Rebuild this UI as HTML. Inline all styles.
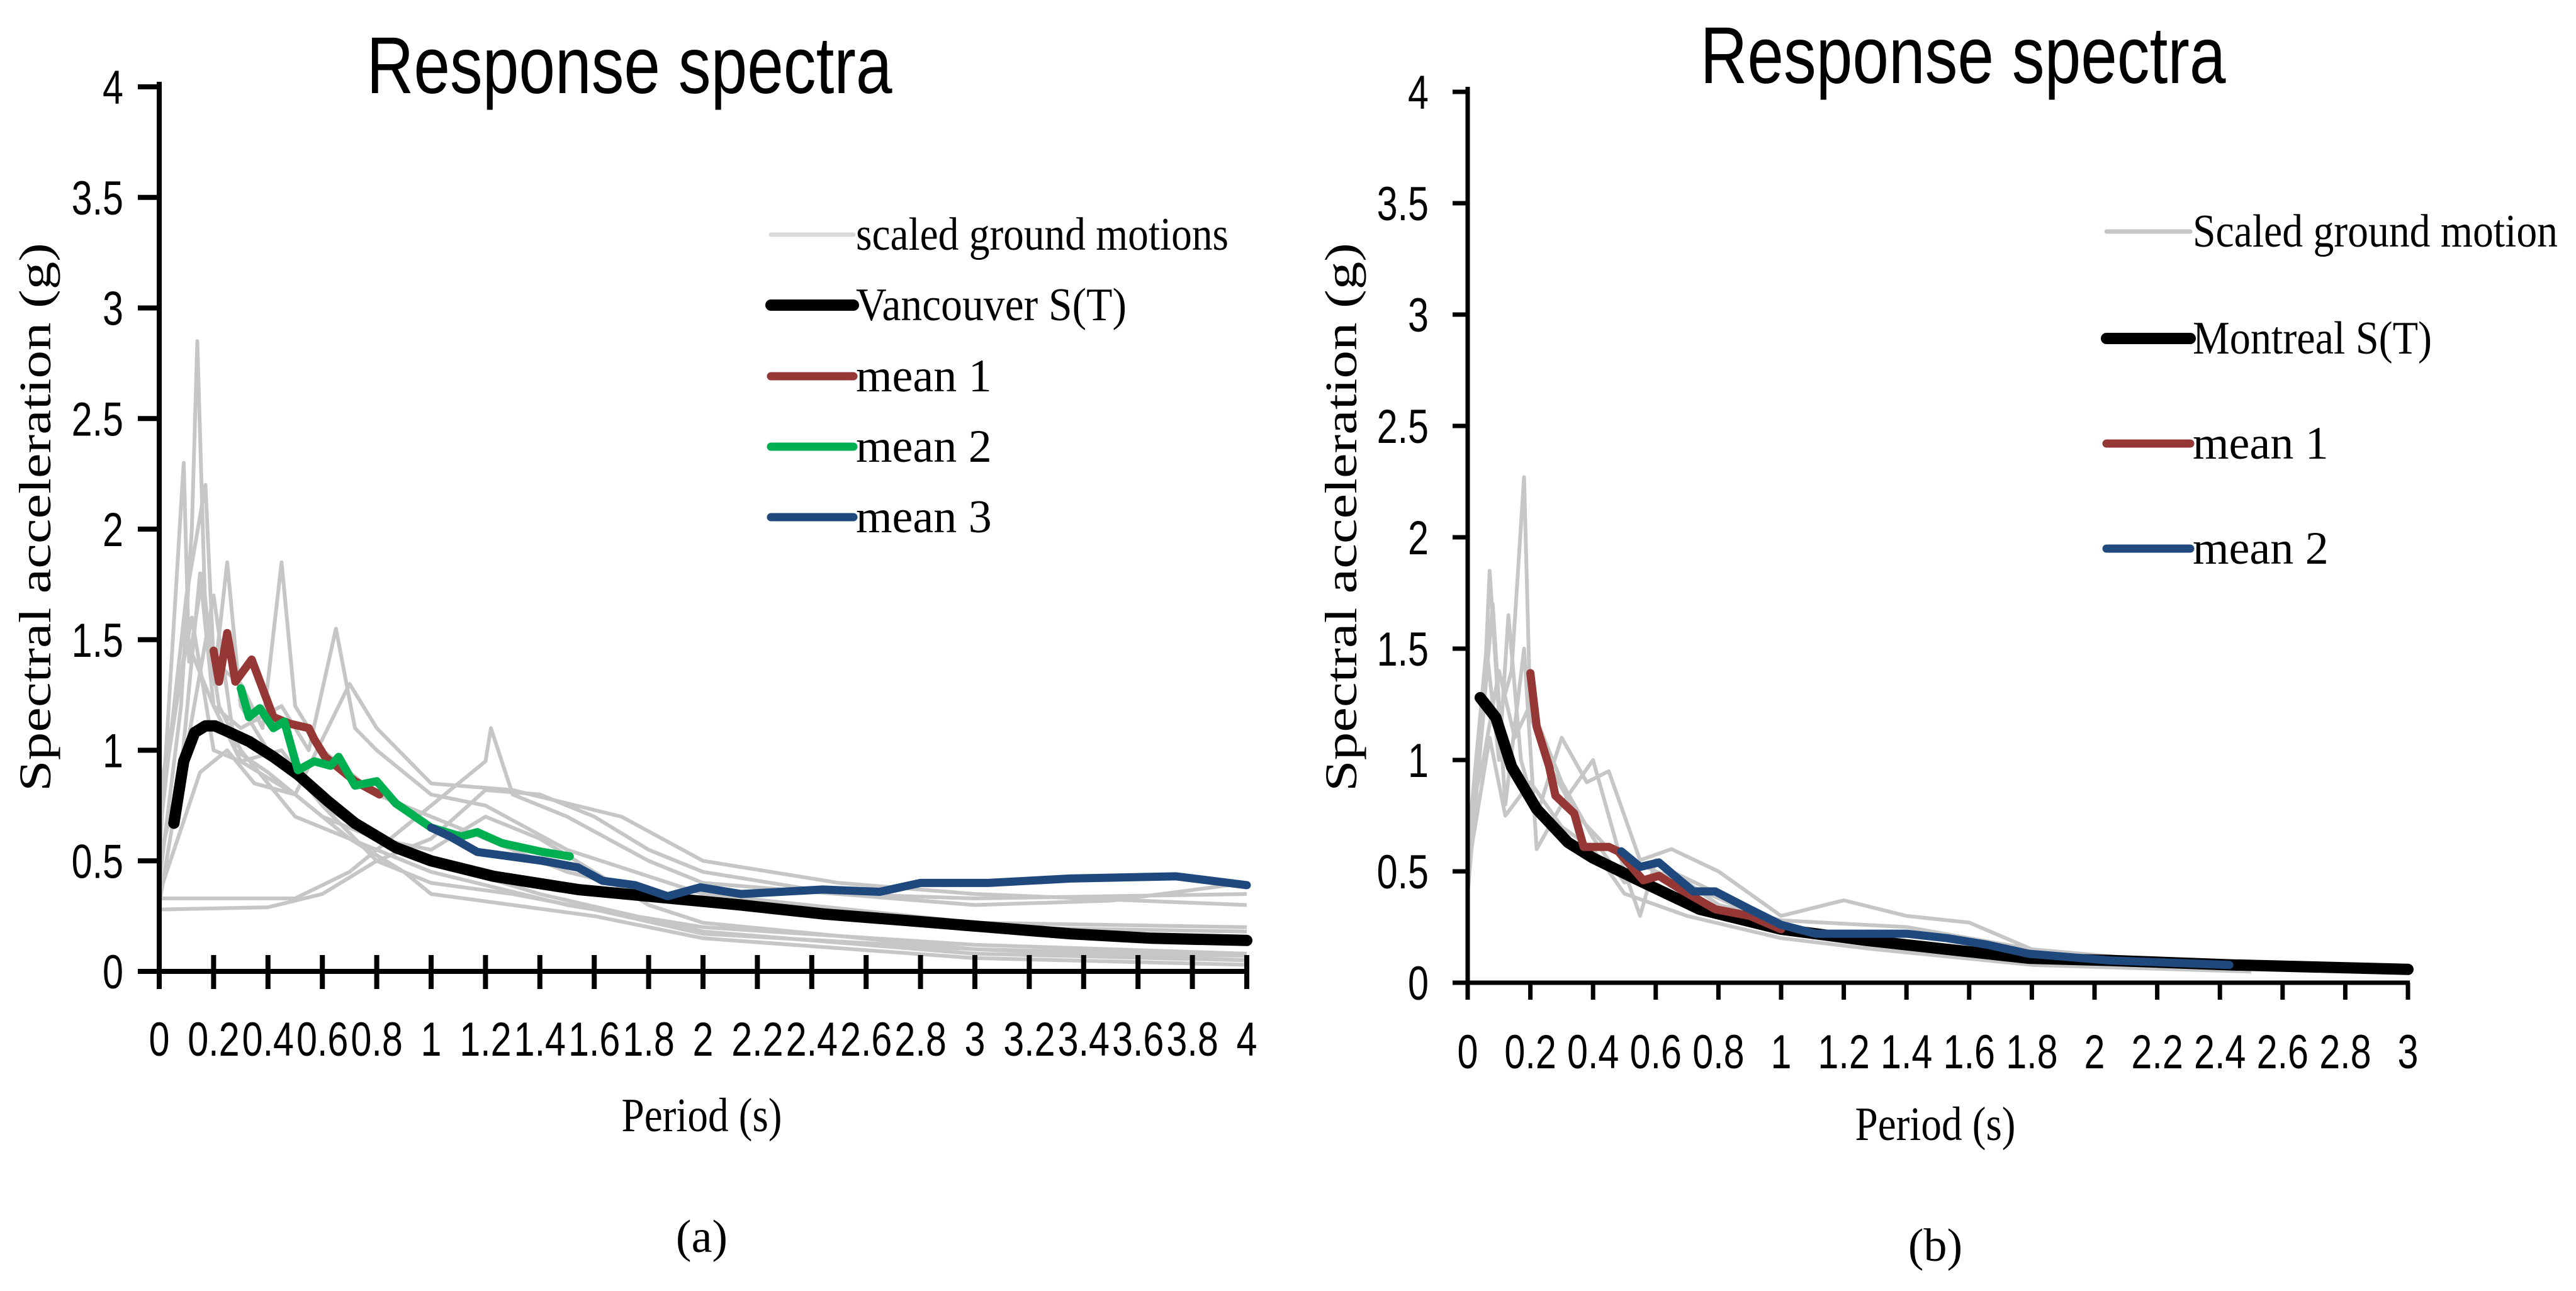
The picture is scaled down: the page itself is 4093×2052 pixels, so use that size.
<!DOCTYPE html>
<html><head><meta charset="utf-8"><style>
html,body{margin:0;padding:0;background:#fff;}
svg{display:block;}
.tk{font-family:"Liberation Sans",sans-serif;font-size:76px;fill:#000;}
.ser{font-family:"Liberation Serif",serif;fill:#000;}
.ttl{font-family:"Liberation Sans",sans-serif;font-size:128px;fill:#000;}
</style></head><body>
<svg id="fig" width="4093" height="2052" viewBox="0 0 4093 2052" xmlns="http://www.w3.org/2000/svg">
<g id="panelA"></g>
<g id="panelB"></g>
</svg>
<script>
// ---------- Panel (a) data ----------
const xTicksA = [0,0.2,0.4,0.6,0.8,1,1.2,1.4,1.6,1.8,2,2.2,2.4,2.6,2.8,3,3.2,3.4,3.6,3.8,4];
const yTicksA = [0,0.5,1,1.5,2,2.5,3,3.5,4];
const vanT = [0.054,0.09,0.13,0.17,0.205,0.26,0.33,0.42,0.51,0.62,0.72,0.87,1.0,1.23,1.54,1.84,2.14,2.44,2.75,3.05,3.35,3.65,4.0];
const vanV = [0.67,0.95,1.08,1.11,1.11,1.08,1.04,0.97,0.89,0.77,0.67,0.56,0.50,0.43,0.37,0.335,0.30,0.26,0.23,0.20,0.17,0.15,0.14];
const m1aT = [0.2,0.22,0.25,0.28,0.34,0.42,0.48,0.55,0.57,0.61,0.72,0.81];
const m1aV = [1.45,1.31,1.53,1.31,1.41,1.15,1.12,1.10,1.05,0.97,0.86,0.80];
const m2aT = [0.3,0.33,0.37,0.42,0.46,0.51,0.57,0.63,0.66,0.72,0.8,0.87,1.0,1.11,1.17,1.26,1.41,1.51];
const m2aV = [1.28,1.15,1.19,1.10,1.13,0.91,0.95,0.93,0.97,0.84,0.86,0.76,0.65,0.61,0.63,0.58,0.54,0.52];
const m3aT = [1.0,1.07,1.17,1.29,1.41,1.54,1.63,1.75,1.87,1.99,2.14,2.44,2.65,2.8,3.05,3.35,3.74,4.0];
const m3aV = [0.65,0.61,0.54,0.52,0.50,0.47,0.41,0.39,0.34,0.38,0.35,0.37,0.36,0.40,0.40,0.42,0.43,0.39];
const grayA = [
 [[0,0.08,0.12,0.14,0.17,0.22,0.3,0.4,0.5,0.7,1.0,1.5,2,3,4],[0.4,1.2,2.0,2.85,1.6,1.2,1.0,0.85,0.7,0.6,0.45,0.3,0.2,0.12,0.08]],
 [[0,0.09,0.11,0.16,0.2,0.25,0.3,0.4,0.5,0.6,0.8,1.0,1.4,2,3,4],[0.5,2.3,1.4,1.8,1.3,1.85,1.2,1.0,0.9,0.75,0.6,0.5,0.35,0.18,0.08,0.05]],
 [[0,0.1,0.17,0.2,0.3,0.38,0.45,0.5,0.6,0.8,1.0,1.2,1.5,2,3,4],[0.6,1.7,2.2,1.4,1.3,1.1,1.85,1.2,1.0,0.8,0.7,0.6,0.45,0.3,0.2,0.18]],
 [[0,0.08,0.15,0.2,0.3,0.45,0.55,0.65,0.72,0.8,1.0,1.2,1.5,2,3,4],[0.3,0.9,1.8,1.2,1.1,1.2,1.0,1.55,1.1,1.0,0.8,0.75,0.55,0.35,0.22,0.2]],
 [[0,0.5,0.7,0.9,1.0,1.2,1.22,1.3,1.5,1.8,2,2.5,3,4],[0.33,0.33,0.45,0.65,0.75,0.95,1.1,0.8,0.7,0.5,0.4,0.35,0.33,0.35]],
 [[0,0.4,0.6,0.8,1.0,1.2,1.4,1.6,1.8,2,2.5,3,3.5,4],[0.28,0.29,0.35,0.5,0.6,0.82,0.8,0.7,0.55,0.45,0.35,0.3,0.32,0.4]],
 [[0,0.1,0.2,0.3,0.5,0.7,0.8,1.0,1.3,1.7,2,2.5,3,4],[0.7,1.5,1.2,0.95,0.8,1.3,1.1,0.85,0.82,0.7,0.5,0.4,0.35,0.3]],
 [[0,0.12,0.2,0.3,0.45,0.6,0.8,1.0,1.3,1.6,2,3,4],[0.8,1.6,1.0,0.95,1.0,0.75,0.5,0.4,0.35,0.28,0.17,0.1,0.07]],
 [[0,0.1,0.2,0.28,0.4,0.6,0.8,1.0,1.2,1.4,1.8,2,3,4],[0.5,1.0,1.7,1.0,0.9,0.7,0.6,0.55,0.7,0.6,0.3,0.22,0.1,0.05]],
 [[0,0.15,0.25,0.35,0.5,0.7,0.9,1.0,1.3,1.6,2,3,4],[0.35,0.9,1.0,0.85,0.8,0.6,0.45,0.35,0.3,0.25,0.15,0.06,0.03]]
];
// ---------- Panel (b) data ----------
const xTicksB = [0,0.2,0.4,0.6,0.8,1,1.2,1.4,1.6,1.8,2,2.2,2.4,2.6,2.8,3];
const yTicksB = [0,0.5,1,1.5,2,2.5,3,3.5,4];
const monT = [0.04,0.09,0.14,0.22,0.32,0.4,0.56,0.74,1.0,1.27,1.53,1.79,2.05,2.44,3.0];
const monV = [1.28,1.19,0.97,0.78,0.63,0.56,0.45,0.33,0.24,0.19,0.15,0.11,0.10,0.08,0.06];
const m1bT = [0.2,0.22,0.26,0.28,0.34,0.37,0.45,0.48,0.56,0.61,0.69,0.79,0.9,1.0];
const m1bV = [1.39,1.15,0.97,0.84,0.76,0.61,0.61,0.59,0.46,0.48,0.41,0.33,0.30,0.24];
const m2bT = [0.49,0.55,0.61,0.66,0.72,0.79,0.9,1.0,1.11,1.4,1.53,1.66,1.79,2.05,2.43];
const m2bV = [0.59,0.52,0.54,0.48,0.41,0.41,0.33,0.26,0.22,0.22,0.20,0.17,0.13,0.10,0.08];
const grayB = [
 [[0,0.05,0.07,0.1,0.14,0.18,0.2,0.25,0.35,0.45,0.6,0.8,1.0,1.5,2,2.5],[0.45,1.2,1.85,1.2,1.4,2.27,1.2,1.0,0.75,0.6,0.5,0.38,0.25,0.15,0.1,0.06]],
 [[0,0.06,0.1,0.13,0.17,0.22,0.3,0.38,0.45,0.55,0.65,0.8,1.0,1.2,1.4,1.6,1.8,2.2,2.8],[0.6,1.5,1.0,1.65,1.0,0.75,1.1,0.9,0.95,0.55,0.6,0.5,0.3,0.37,0.3,0.27,0.15,0.1,0.07]],
 [[0,0.08,0.12,0.18,0.22,0.3,0.4,0.5,0.55,0.6,0.8,1.0,1.4,1.6,2,2.5],[0.4,1.7,0.8,1.5,0.6,0.8,1.0,0.5,0.3,0.55,0.35,0.28,0.25,0.2,0.1,0.07]],
 [[0,0.05,0.1,0.15,0.2,0.3,0.4,0.5,0.65,0.8,1.0,1.3,1.6,2,2.5],[0.7,1.0,1.4,1.1,1.25,0.9,0.65,0.45,0.5,0.4,0.25,0.18,0.12,0.08,0.05]],
 [[0,0.07,0.12,0.2,0.3,0.4,0.5,0.7,1.0,1.3,1.8,2.5],[0.5,1.1,0.75,0.9,0.7,0.6,0.4,0.3,0.2,0.15,0.08,0.05]]
];

const NS = "http://www.w3.org/2000/svg";
function mk(parent, tag, attrs){
  const e = document.createElementNS(NS, tag);
  for (const k in attrs) e.setAttribute(k, attrs[k]);
  parent.appendChild(e);
  return e;
}
function fmt(v){ return (Math.round(v*10)/10).toString(); }

function buildPanel(g, cfg){
  const sx = t => cfg.x0 + t / cfg.xMax * (cfg.x1 - cfg.x0);
  const sy = v => cfg.y0 - v / 4 * (cfg.y0 - cfg.y4);
  const path = (T, V) => T.map((t,i)=>(i?'L':'M')+sx(t).toFixed(1)+' '+sy(V[i]).toFixed(1)).join(' ');

  cfg.grays.forEach((s,i)=>{
    const p = mk(g,'path',{d:path(s[0],s[1]),fill:'none',stroke:'#c6c6c6','stroke-width':6,'stroke-linejoin':'round'});
    
    
  });
  cfg.series.forEach(s=>{
    const p = mk(g,'path',{d:path(s.T,s.V),fill:'none',stroke:s.color,'stroke-width':s.w,'stroke-linejoin':'round','stroke-linecap':'round'});
    
    
  });
  const ax = mk(g,'line',{x1:cfg.x0,y1:cfg.y4-8,x2:cfg.x0,y2:cfg.y0+cfg.tickDown,stroke:'#000','stroke-width':cfg.aw});
  
  
  const axx = mk(g,'line',{x1:cfg.x0-cfg.yTickLen,y1:cfg.y0,x2:cfg.x1+3,y2:cfg.y0,stroke:'#000','stroke-width':cfg.aw});
  
  
  cfg.yTicks.forEach(v=>{
    const y = sy(v);
    mk(g,'line',{x1:cfg.x0-cfg.yTickLen,y1:y,x2:cfg.x0,y2:y,stroke:'#000','stroke-width':cfg.aw});
    const t = mk(g,'text',{x:0,y:0,'text-anchor':'end',class:'tk',transform:`translate(${cfg.yLabRight},${y+27}) scale(0.78,1)`});
    t.textContent = fmt(v);
    
    
  });
  cfg.xTicks.forEach(v=>{
    const x = sx(v);
    mk(g,'line',{x1:x,y1:cfg.y0-cfg.tickUp,x2:x,y2:cfg.y0+cfg.tickDown,stroke:'#000','stroke-width':cfg.aw});
    const t = mk(g,'text',{x:0,y:0,'text-anchor':'middle',class:'tk',transform:`translate(${x},${cfg.xLabBase}) scale(0.78,1)`});
    t.textContent = fmt(v);
    
    
  });
  const tt = mk(g,'text',{x:cfg.titleX,y:cfg.titleY,'text-anchor':'middle',class:'ttl',textLength:835,lengthAdjust:'spacingAndGlyphs'});
  tt.textContent = 'Response spectra';
  
  
  const yt = mk(g,'text',{x:0,y:0,'text-anchor':'middle',class:'ser','font-size':72,textLength:872,lengthAdjust:'spacingAndGlyphs',transform:`translate(${cfg.yTitleX},822) rotate(-90)`});
  yt.textContent = 'Spectral acceleration (g)';
  
  
  const xt = mk(g,'text',{x:cfg.xTitleX,y:cfg.xTitleY,'text-anchor':'middle',class:'ser','font-size':76,textLength:255,lengthAdjust:'spacingAndGlyphs'});
  xt.textContent = 'Period (s)';
  
  
  const cap = mk(g,'text',{x:cfg.xTitleX,y:cfg.capY,'text-anchor':'middle',class:'ser','font-size':74});
  cap.textContent = cfg.cap;
  
  
  cfg.legend.forEach(l=>{
    const ln = mk(g,'line',{x1:cfg.legX0,y1:l.y,x2:cfg.legX1,y2:l.y,stroke:l.color,'stroke-width':l.w,'stroke-linecap':'round'});
    
    
    const attrs = {x:cfg.legX1+4,y:l.y+24,class:'ser','font-size':74};
    if (l.len){ attrs.textLength = l.len; attrs.lengthAdjust = 'spacingAndGlyphs'; }
    const tx = mk(g,'text',attrs);
    tx.textContent = l.label;
    
    
  });
}

buildPanel(document.getElementById('panelA'), {
  x0:253, x1:1981, xMax:4, y0:1544, y4:138, aw:8, yTickLen:34, tickUp:26, tickDown:28,
  xTicks:xTicksA, yTicks:yTicksA, yLabRight:196, xLabBase:1678,
  titleX:1000, titleY:148, yTitleX:80, xTitleX:1115, xTitleY:1798, capY:1990, cap:'(a)',
  grays:grayA,
  series:[
    {name:'vancouver-st-line',T:vanT,V:vanV,color:'#000',w:18},
    {name:'mean-1-line',T:m1aT,V:m1aV,color:'#953735',w:13},
    {name:'mean-2-line',T:m2aT,V:m2aV,color:'#00b050',w:13},
    {name:'mean-3-line',T:m3aT,V:m3aV,color:'#1f497d',w:13}
  ],
  legX0:1225, legX1:1356,
  legend:[
    {y:373,color:'#d9d9d9',w:7,label:'scaled ground motions',len:592},
    {y:485,color:'#000',w:18,label:'Vancouver S(T)',len:430},
    {y:598,color:'#953735',w:13,label:'mean 1'},
    {y:710,color:'#00b050',w:13,label:'mean 2'},
    {y:822,color:'#1f497d',w:13,label:'mean 3'}
  ]
});
buildPanel(document.getElementById('panelB'), {
  x0:2332, x1:3826, xMax:3, y0:1562, y4:146, aw:7, yTickLen:24, tickUp:0, tickDown:27,
  xTicks:xTicksB, yTicks:yTicksB, yLabRight:2270, xLabBase:1698,
  titleX:3119, titleY:132, yTitleX:2155, xTitleX:3075, xTitleY:1812, capY:2004, cap:'(b)',
  grays:grayB,
  series:[
    {name:'montreal-st-line',T:monT,V:monV,color:'#000',w:18},
    {name:'mean-1-line',T:m1bT,V:m1bV,color:'#953735',w:13},
    {name:'mean-2-line',T:m2bT,V:m2bV,color:'#1f497d',w:13}
  ],
  legX0:3347, legX1:3480,
  legend:[
    {y:368,color:'#c6c6c6',w:7,label:'Scaled ground motion',len:580},
    {y:538,color:'#000',w:18,label:'Montreal S(T)',len:380},
    {y:705,color:'#953735',w:13,label:'mean 1'},
    {y:872,color:'#1f497d',w:13,label:'mean 2'}
  ]
});
</script>
</body></html>
